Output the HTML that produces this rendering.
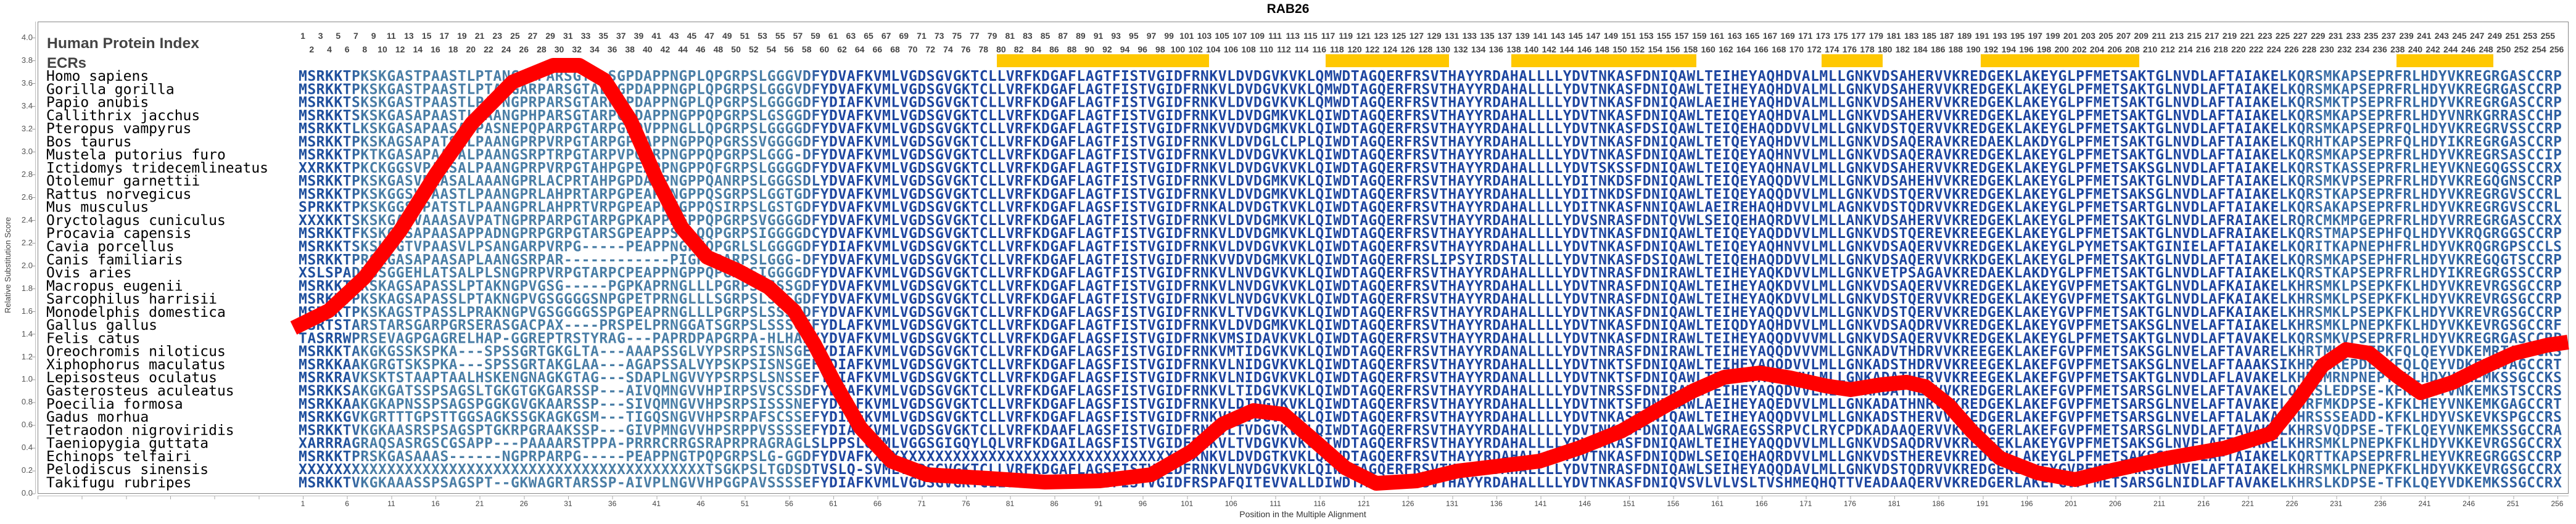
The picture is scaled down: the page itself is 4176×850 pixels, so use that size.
<!DOCTYPE html>
<html><head><meta charset="utf-8">
<style>
html,body{margin:0;padding:0;background:#fff;}
body{width:4176px;height:850px;position:relative;overflow:hidden;font-family:"Liberation Sans",sans-serif;}
.row{position:absolute;display:flex;white-space:nowrap;}
.hn span{flex:0 0 28.667px;text-align:center;}
.hn{font-weight:bold;font-size:14px;line-height:20px;color:#444;}
.bl span{flex:0 0 71.667px;text-align:center;}
.bl{font-size:12px;line-height:14px;color:#444;}
svg{position:absolute;left:0;top:0;}
</style></head><body>
<svg width="4176" height="850" viewBox="0 0 4176 850">
<defs>
<linearGradient id="g" gradientUnits="userSpaceOnUse" x1="484" y1="0" x2="4153" y2="0">
<stop offset="0" stop-color="#1f4f9d"/>
<stop offset="0.02" stop-color="#1f4f9d"/>
<stop offset="0.03" stop-color="#4a7ea6"/>
<stop offset="0.22" stop-color="#4a7ea6"/>
<stop offset="0.235" stop-color="#1e46a0"/>
<stop offset="0.87" stop-color="#1e46a0"/>
<stop offset="0.89" stop-color="#3a6ea6"/>
<stop offset="1" stop-color="#2d5fa2"/>
</linearGradient>
</defs>
<text x="2088" y="21" font-family="Liberation Sans" font-weight="bold" font-size="21" text-anchor="middle" fill="#000">RAB26</text>
<rect x="61.5" y="35.5" width="4102" height="765" fill="none" stroke="#888" stroke-width="1"/>
<line x1="57.5" y1="35" x2="57.5" y2="801" stroke="#bbb"/>
<line x1="61" y1="804.5" x2="4164" y2="804.5" stroke="#bbb"/>
<g font-family="Liberation Sans" font-size="13" fill="#555" text-anchor="end">
<text x="53" y="65">4.0</text><text x="53" y="102">3.8</text><text x="53" y="139">3.6</text><text x="53" y="176">3.4</text><text x="53" y="213">3.2</text><text x="53" y="250">3.0</text><text x="53" y="287">2.8</text><text x="53" y="324">2.6</text><text x="53" y="361">2.4</text><text x="53" y="398">2.2</text><text x="53" y="435">2.0</text><text x="53" y="472">1.8</text><text x="53" y="509">1.6</text><text x="53" y="546">1.4</text><text x="53" y="583">1.2</text><text x="53" y="619">1.0</text><text x="53" y="656">0.8</text><text x="53" y="693">0.6</text><text x="53" y="730">0.4</text><text x="53" y="767">0.2</text><text x="53" y="804">0.0</text>
</g>
<text transform="translate(17,430) rotate(-90)" font-family="Liberation Sans" font-size="13" fill="#444" text-anchor="middle">Relative Substitution Score</text>
<text x="2112" y="839" font-family="Liberation Sans" font-size="14" fill="#333" text-anchor="middle">Position in the Multiple Alignment</text>
<text x="76" y="78" font-family="Liberation Sans" font-weight="bold" font-size="24" fill="#444" textLength="247" lengthAdjust="spacingAndGlyphs">Human Protein Index</text>
<text x="76" y="110" font-family="Liberation Sans" font-weight="bold" font-size="24" fill="#444">ECRs</text>
<g fill="#ffc800">
<rect x="1616" y="88" width="344" height="21"/>
<rect x="2149" y="88" width="200" height="21"/>
<rect x="2450" y="88" width="300" height="21"/>
<rect x="2953" y="88" width="99" height="21"/>
<rect x="3211" y="88" width="257" height="21"/>
<rect x="3885" y="88" width="157" height="21"/>
</g>
<g font-family="DejaVu Sans Mono" font-size="23" fill="#000">
<text x="75" y="131">Homo sapiens</text>
<text x="75" y="152.3">Gorilla gorilla</text>
<text x="75" y="173.5">Papio anubis</text>
<text x="75" y="194.8">Callithrix jacchus</text>
<text x="75" y="216.1">Pteropus vampyrus</text>
<text x="75" y="237.4">Bos taurus</text>
<text x="75" y="258.6">Mustela putorius furo</text>
<text x="75" y="279.9">Ictidomys tridecemlineatus</text>
<text x="75" y="301.2">Otolemur garnettii</text>
<text x="75" y="322.4">Rattus norvegicus</text>
<text x="75" y="343.7">Mus musculus</text>
<text x="75" y="365">Oryctolagus cuniculus</text>
<text x="75" y="386.2">Procavia capensis</text>
<text x="75" y="407.5">Cavia porcellus</text>
<text x="75" y="428.8">Canis familiaris</text>
<text x="75" y="450.1">Ovis aries</text>
<text x="75" y="471.3">Macropus eugenii</text>
<text x="75" y="492.6">Sarcophilus harrisii</text>
<text x="75" y="513.9">Monodelphis domestica</text>
<text x="75" y="535.1">Gallus gallus</text>
<text x="75" y="556.4">Felis catus</text>
<text x="75" y="577.7">Oreochromis niloticus</text>
<text x="75" y="598.9">Xiphophorus maculatus</text>
<text x="75" y="620.2">Lepisosteus oculatus</text>
<text x="75" y="641.5">Gasterosteus aculeatus</text>
<text x="75" y="662.8">Poecilia formosa</text>
<text x="75" y="684">Gadus morhua</text>
<text x="75" y="705.3">Tetraodon nigroviridis</text>
<text x="75" y="726.6">Taeniopygia guttata</text>
<text x="75" y="747.8">Echinops telfairi</text>
<text x="75" y="769.1">Pelodiscus sinensis</text>
<text x="75" y="790.4">Takifugu rubripes</text>
</g>
<g font-family="DejaVu Sans Mono" font-weight="bold" font-size="23" fill="url(#g)">
<text x="484" y="131" textLength="3669" lengthAdjust="spacing">MSRKKTPKSKGASTPAASTLPTANGARPARSGTALSGPDAPPNGPLQPGRPSLGGGVDFYDVAFKVMLVGDSGVGKTCLLVRFKDGAFLAGTFISTVGIDFRNKVLDVDGVKVKLQMWDTAGQERFRSVTHAYYRDAHALLLLYDVTNKASFDNIQAWLTEIHEYAQHDVALMLLGNKVDSAHERVVKREDGEKLAKEYGLPFMETSAKTGLNVDLAFTAIAKELKQRSMKAPSEPRFRLHDYVKREGRGASCCRP</text>
<text x="484" y="152.3" textLength="3669" lengthAdjust="spacing">MSRKKTPKSKGASTPAASTLPTANGARPARSGTALSGPDAPPNGPLQPGRPSLGGGVDFYDVAFKVMLVGDSGVGKTCLLVRFKDGAFLAGTFISTVGIDFRNKVLDVDGVKVKLQMWDTAGQERFRSVTHAYYRDAHALLLLYDVTNKASFDNIQAWLTEIHEYAQHDVALMLLGNKVDSAHERVVKREDGEKLAKEYGLPFMETSAKTGLNVDLAFTAIAKELKQRSMKAPSEPRFRLHDYVKREGRGASCCRP</text>
<text x="484" y="173.5" textLength="3669" lengthAdjust="spacing">MSRKKTSKSKGASTPAASTLPATNGPRPARSGTARPGPDAPPNGPLQPGRPSLGGGGDFYDIAFKVMLVGDSGVGKTCLLVRFKDGAFLAGTFISTVGIDFRNKVLDVDGVKVKLQMWDTAGQERFRSVTHAYYRDAHALLLLYDVTNKASFDNIQAWLAEIHEYAQHDVALMLLGNKVDSAHERVVKREDGEKLAKEYGLPFMETSAKTGLNVDLAFTAIAKELKQRSMKTPSEPRFRLHDYVKREGRGASCCRP</text>
<text x="484" y="194.8" textLength="3669" lengthAdjust="spacing">MSRKKTSKSKGASAPAASTLPAANGPHPARSGTARPGSDAPPNGPPQPGRPSLGSGGDFYDVAFKVMLVGDSGVGKTCLLVRFKDGAFLAGTFISTVGIDFRNKVLDVDGMKVKLQIWDTAGQERFRSVTHAYYRDAHALLLLYDVTNKASFDNIQAWLTEIQEYAQHDVALMLLGNKVDSAHERVVKREDGEKLAKEYGLPFMETSAKTGLNVDLAFTAIAKELKQRSMKAPSEPRFRLHDYVNRKGRRASCCHP</text>
<text x="484" y="216.1" textLength="3669" lengthAdjust="spacing">MSRKKTLKSKGASAPAASAIPASNEPQPARPGTARPGPQVPPNGLLQPGRPSLGGGGDFYDVAFKVMLVGDSGVGKTCLLVRFKDGAFLAGTFISTVGIDFRNKVVDVDGMKVKLQIWDTAGQERFRSVTHAYYRDAHALLLLYDVTNKASFDSIQAWLTEIQEHAQDDVVLMLLGNKVDSTQERVVKREDGEKLAKEYGLPFMETSAKTGLNVDLAFTAIAKELKQRSMKAPSEPRFQLHDYVKREGRVSSCCRP</text>
<text x="484" y="237.4" textLength="3669" lengthAdjust="spacing">MSRKKTPKSKAGSAPATSALPAANGPRPVRPGTARPGPEAPPNGPPQPGRSSVGGGGDFYDVAFKVMLVGDSGVGKTCLLVRFKDGAFLAGTFISTVGIDFRNKVLDVDGLCLPLQIWDTAGQERFRSVTHAYYRDAHALLLLYDVTNKASFDNIQAWLTETQEYAQHDVVLMLLGNKVDSAQERAVKREDAEKLAKDYGLPFMETSAKTGLNVDLAFTAIAKELKQRHTKAPSEPRFQLHDYIKREGRGASCCRP</text>
<text x="484" y="258.6" textLength="3669" lengthAdjust="spacing">MSRKKTPKTKGASAPAASALPAANGSRPTRPGTARPVPQARPNGPPQPGRPSLGGG-DFYDVAFKVMLVGDSGVGKTCLLVRFKDGAFLAGTFISTVGIDFRNKVLDVDGVKVKLQIWDTAGQERFRSVTHAYYRDAHALLLLYDVTNKASFDNIQAWLTEIQEYAQHNVVLMLLGNKVDSAQERAVKREDGEKLAKEYGLPFMETSAKTGLNVDLAFTAIAKELKQRSMKAPSEPRFRLHDYVKREGRSASCCIP</text>
<text x="484" y="279.9" textLength="3669" lengthAdjust="spacing">XXRKKTPKCKGGSVPAASALPAANGPRPVRPGTAHPGPEAPPNGPPQFGRPSLGGGGDFYDVAFKVMLVGDSGVGKTCLLVRFKDGAFLAGTFISTVGIDFRNKVLDVDGVKVKLQIWDTAGQERFRSVTHAYYRDAHALLLLYDVTSKSSFDNIQAWLTEIQEYAQHNAVLMLLGNKVDSAHERVVKREDGEKLAKEYGLPFMETSAKSGLNVDLAFTAIAKELKQRSTKASSEPRFRLHEYVKNEGQGSSCCRX</text>
<text x="484" y="301.2" textLength="3669" lengthAdjust="spacing">MSRKKTPKSKGASVPAASALAAANGPRLACPRTAHPGPDAPPNGPPQANRPSLGGGSDLYDVAFKVMLVGDSGVGKTCLLVRFKDGAFLAGTFISTVGIDFRNKVLDVDGMKVKLQIWDTAGQERFRSVTHAYYRDAHALLLLYDITNKDSFDNIQAWLTEIQEYAQQDVVLMLLGNKVDSAHEHVVKREDGEKLAKEYGLPFMETSAKTGLNVDLAFTAIAKELKQRSMKVPSEPRFRLHDYVKREGQGNSCCRP</text>
<text x="484" y="322.4" textLength="3669" lengthAdjust="spacing">MSRKKTPKSKGGSVPAASTLPAANGPRLAHPRTARPGPEAPPNGPPQSGRPSLGGTGDFYDVAFKVMLVGDSGVGKTCLLVRFKDGAFLAGTFISTVGIDFRNKVLDVDGMKVKLQIWDTAGQERFRSVTHAYYRDAHALLLLYDITNKDSFDNIQAWLTEIQEYAQQDVVLMLLGNKVDSTQERVVKREDGEKLAKEYGLPFMETSAKSGLNVDLAFTAIAKELKQRSTKAPSEPRFRLHDYVKREGRGVSCCRL</text>
<text x="484" y="343.7" textLength="3669" lengthAdjust="spacing">SPRKKTPKSKGGSEPATSTLPAANGPRLAHPRTVRPGPEAPPNGPPQSIRPSLGSTGDFYDVAFKVMLVGDSGVGKTCLLVRFKDGAFLAGSFISTVGIDFRNKALDVDGTKVKLQIWDTAGQERFRSVTHAYYRDAHALLLLYDITNKASFNNIQAWLAEIREHAQHDVVLMLAGNKVDSTQDRVVKREDGEKLAKEYGLPFMETSARTGLNVDLAFTAIAKELKQRSAKAPSEPRFRLHDYVKREGRGVSCCRL</text>
<text x="484" y="365" textLength="3669" lengthAdjust="spacing">XXXKKTSKSKGASVAAASAVPATNGPRPARPGTARPGPKAPPNGPPQPGRPSVGGGGDFYDVAFKVMLVGDSGVGKTCLLVRFKDGAFLAGTFISTVGIDFRNKVLDVDGMKVKLQIWDTAGQERFRSVTHAYYRDAHALLLLYDVSNRASFDNTQVWLSEIQEHAQRDVVLMLLANKVDSAHERVVKREDGEKLAKEYGLPFMETSAKTGLNVDLAFRAIAKELRQRCMKMPGEPRFRLHDYVRREGRGASCCRX</text>
<text x="484" y="386.2" textLength="3669" lengthAdjust="spacing">MSRKKTFKSKGASAPAASAPPADNGPRPGRPGTARSGPEAPPSGLQQPGRPSIGGGGDCYDVAFKVMLVGDSGVGKTCLLVRFKDGAFLAGTFISTVGIDFRNKVLDVDGMKVKLQIWDTAGQERFRSVTHAYYRDAHALLLLYDVTNKASFDNIQAWLTEIQEYAQDDVVLMLLGNKVDSTQEREVKREEGEKLAKEYGLPFMETSAKTGLNVDLAFRAIAKELKQRSTMAPSEPHFQLHDYVKRQGRGGSCCRP</text>
<text x="484" y="407.5" textLength="3669" lengthAdjust="spacing">MSRKKTSKSKTGTVPAASVLPSANGARPVRPG-----PEAPPNGPHQPGRLSLGGGGDFYDIAFKVMLVGDSGVGKTCLLVRFKDGAFLAGTFISTVGIDFRNKVLDVDGVKVKLQIWDTAGQERFRSVTHAYYRDAHALLLLYDVTNKASFDNIQAWLTEIQEYAQHNVVLMLLGNKVDSAQERVVKREDGEKLAKEYGLPYMETSAKTGINIELAFTAIAKELKQRITKAPNEPHFRLHDYVKRQGRGPSCCLS</text>
<text x="484" y="428.8" textLength="3669" lengthAdjust="spacing">MSRKKTPRSKGASAPAASAPLAANGSRPAR------------PIGPPPARPSLGGG-DFYDVAFKVMLVGDSGVGKTCLLVRFKDGAFLAGTFISTVGIDFRNKVVDVDGMKVKLQIWDTAGQERFRSLIPSYIRDSTALLLLYDVTNKASFDSIQAWLTEIQEHAQDDVVLMLLGNKVDSAQERVVKRKDGEKLAKEYGLPFMETSAKTGLNVDLAFTAIAKELKQRSMKAPSEPHFRLHDYVKREGQGTSCCRP</text>
<text x="484" y="450.1" textLength="3669" lengthAdjust="spacing">XSLSPADRSSGGEHLATSALPLSNGPRPVRPGTARPCPEAPPNGPPQPGNSSIGGGGDFYDVAFKVMLVGDSGVGKTCLLVRFKDGAFLAGTFISTVGIDFRNKVLNVDGVKVKLQIWDTAGQERFRSVTHAYYRDAHALLLLYDVTNRASFDNIRAWLTEIHEYAQKDVVLMLLGNKVETPSAGAVKREDAEKLAKDYGLPFMETSAKTGLNVDLAFTAIAKELKQRSTKAPSEPRFRLHDYIKREGRGSSCCRP</text>
<text x="484" y="471.3" textLength="3669" lengthAdjust="spacing">MSRKKTPKSKAGSAPASSLPTAKNGPVGSG-----PGPKAPRNGLLLPGRPSLSSSGDFYDVAFKVMLVGDSGVGKTCLLVRFKDGAFLAGTFISTVGIDFRNKVLNVDGVKVKLQIWDTAGQERFRSVTHAYYRDAHALLLLYDVTNRASFDNIQAWLTEIHEYAQKDVVLMLLGNKVDSAQERVVKREDGEKLAKEYGVPFMETSAKTGLNVDLAFKAIAKELKHRSMKLPSEPKFKLHDYVKREVRGSGCCRP</text>
<text x="484" y="492.6" textLength="3669" lengthAdjust="spacing">MSRKKTPKSKAGSAPASSLPTAKNGPVGSGGGGSNPGPETPRNGLLLSGRPSLSSSGDFYDVAFKVMLVGDSGVGKTCLLVRFKDGAFLAGTFISTVGIDFRNKVLNVDGVKVKLQIWDTAGQERFRSVTHAYYRDAHALLLLYDVTNRASFDNIQAWLTEIHEYAQKDVVLMLLGNKVDSTQERVVKREDGEKLAKEYGVPFMETSAKTGLNVDLAFKAIAKELKHRSMKLPSEPKFKLHDYVKREVRGSGCCRP</text>
<text x="484" y="513.9" textLength="3669" lengthAdjust="spacing">MSRKKTPKSKAGSTPASSLPRAKNGPVGSGGGGSSPGPEAPRNGLLLPGRPSLSSSGDFYDVAFKVMLVGDSGVGKTCLLVRFKDGAFLAGSFISTVGIDFRNKVLTVDGVKVKLQIWDTAGQERFRSVTHAYYRDAHALLLLYDVTNKASFDNIQAWLTEIHEYAQQDVVLMLLGNKVDSTQERVVKREDGEKLAKEYGVPFMETSAKTGLNVDLAFKAIAKELKHRSMKLPSEPKFKLHDYVKREVRGSGCCRP</text>
<text x="484" y="535.1" textLength="3669" lengthAdjust="spacing">PSRTSTARSTARSGARPGRSERASGACPAX----PRSPELPRNGGATSGRPSLSSSGEFYDLAFKVMLVGDSGVGKTCLLVRFKDGAFLAGTFISTVGIDFRNKVLDVDGMKVKLQIWDTAGQERFRSVTHAYYRDAHALLLLYDVTNKASFDNIQAWLTEIQDYAQHDVVLMLLGNKVDSAQDRVVKREDGEKLAKEYGVPFMETSAKSGLNVELAFTAIAKELKHRSMKLPNEPKFKLHDYVKKEVRGSGCCRF</text>
<text x="484" y="556.4" textLength="3669" lengthAdjust="spacing">TASRRWPRSEVAGPGAGRELHAP-GGREPTRSTYRAG---PAPRDPAPGRPA-HLHAPXYDVAFKVMLVGDSGVGKTCLLVRFKDGAFLAGSFISTVGIDFRNKVMSIDAVKVKLQIWDTAGQERFRSVTHAYYRDAHALLLLYDVTNKASFDNIRAWLTEIHEYAQQDVVVMLLGNKVDSAQERVVKREDGEKLAKEYGLPFMETSAKTGLNVDLAFTAVAKELKQRSMKVPSEPRFRLHDYVKREGRGASCCRP</text>
<text x="484" y="577.7" textLength="3669" lengthAdjust="spacing">MSRKKTAKGKGSSKSPKA---SPSSGRTGKGLTA---AAAPSSGLVYPSRPSISNSGEFYDIAFKVMLVGDSGVGKTCLLVRFKDGAFLAGSFISTVGIDFRNKVMTIDGVKVKLQIWDTAGQERFRSVTHAYYRDANALLLLYDVTNRASFDNIRAWLTEIHEYAQQDVVVMLLGNKADVTHDRVVKREEGEKLAKEFGVPFMETSAKSGLNVELAFTAVARELKHRTMKEPDEPKFQLQEYVDKEMRTAGCCRS</text>
<text x="484" y="598.9" textLength="3669" lengthAdjust="spacing">MSRKKAAKGRGTSKSPKA---SPSSGRTAKGLAA---AGAPSSALVYPSKPSISNSGEFYDIAFKVMLVGDSGVGKTCLLVRFKDGAFLAGSFISTVGIDFRNKVLNIDGVKVKLQIWDTAGQERFRSVTHAYYRDAHALLLLYDVTNKTSFDNIQAWLTEIHEYAQQDVVLMLLGNKADSTHDRVVKREEGEKLAKEFGVPFMETSAKSGLNVELAFTAAAKSIKHRTMKEPDEPKFQLQEYVDKEMRVAGCCRT</text>
<text x="484" y="620.2" textLength="3669" lengthAdjust="spacing">MSRKRAVKSKTSTAAPTAALHSKENGNAGKGTAG---SDAPLNGVVYPSRPSLSNSSEFYDIAFKVMLVGDSGVGKTCLLVRFKDGAFLAGSFISTVGIDFRNKVLNIDGVKVKLQIWDTAGQERFRSVTHAYYRDANALLLLYDVTNKTSFDNIQAWLTEIHEYAQQDVVLMLLGNKADATHERVVKREEGEKLAKEFGVPFMETSAKTGLNVDLAFLAVAKELKHRSMRNPNEPTFKLHDYVNKEMKSSGCCKS</text>
<text x="484" y="641.5" textLength="3669" lengthAdjust="spacing">MSRKKSAKGKGATSSPSAGSLTGKGTGKGARSSP---AIVQMNGVVHPIRPSVSCSSDFYDIAFKVMLVGDSGVGKTCLLVRFKDGAFLAGSFISTVGIDFRNKVLTIDGVKVKLQIWDTAGQERFRSVTHAYYRDAHALLLLYDVTNRSSFDNIRAWLTEIHEYAQQDVVLMLLGNKADATHERVVKREDGERLAKEFGVPFMETSARSGLNVELAFTAVAKELQHRSLEDPSE-KFKLQEYVNKEMKSTSCCRS</text>
<text x="484" y="662.8" textLength="3669" lengthAdjust="spacing">MSRKKAAKGKAPNSSPSAGSPGGKGVGKAARSSP---SIVQMNGVVHPSRPSISSSNEFYDIAFKVMLVGDSGVGKTCLLVRFKDGAFLAGSFISTVGIDFRNKVLDIDGVKVKLQIWDTAGQERFRSVTHAYYRDAHALLLLYDVTNKTSFDNIRAWLAEIHEYAQEDVVLMLLGNKADATHNRVVKREDGEKLAKEFGVPFMETSARSGLNVELAFTAVAKELKHRFMKDPSE-KFKLHEYVNKEMKGAGCCRT</text>
<text x="484" y="684" textLength="3669" lengthAdjust="spacing">MSRKKGVKGRTTTGPSTTGGSAGKSSGKAGKGSM---TIGQSNGVVHPSRPAFSCSSEFYDIAFKVMLVGDSGVGKTCLLVRFKDGAFLAGSFISTVGIDFRNKVLTVDGVKVKLQIWDTAGQERFRSVTHAYYRDAHALLLLYDVTNKASFDNIQAWLTEIHEYAQQDVVLMLLGNKADSTHERVVKKEDGERLAKEFGVPFMETSARSGLNVELAFTALAKALRHRSSSEADD-KFKLHDYVSKEVKSPGCCRS</text>
<text x="484" y="705.3" textLength="3669" lengthAdjust="spacing">MSRKKTVKGKAASRSPSAGSPTGKRPGRAAKSSP---GIVPMNGVVHPSRPPVSSSSEFYDIAFKVMLVGDSGVGKTCLLVRFKDAAFLAGSFISTVGIDFRNKVLTVDGVKVKLQIWDTAGQERFRSVTHAYYRDAHALLLLYDVTNKASFDNIQAALWGRAEGSSRPVCLRYCPDKADAAQERVVKREDGERLAKEFGVPFMETSARSGLNVDLAFTAVAKELKHRSVQDPSE-TFKLQEYVNKEMKSSGCCRA</text>
<text x="484" y="726.6" textLength="3669" lengthAdjust="spacing">XARRRAGRAQSASRGSCGSAPP---PAAAARSTPPA-PRRRCRRGSRAPRPRAGRAGLSLPPSLQVMLVGGSGIGQYLQLVRFKDGAILAGSFISTVGIDFRNKVLTVDGVKVKLQIWDTAGQERFRSVTHAYYRDAHALLLLYDVTNKASFDNIQAWLTEIHEYAQQDVVLMLLGNKVDSAQDRVVKREDGEKLAKEYGVPFMETSAKSGLNVELAFTAIAKELKHRSMKLPNEPKFKLHDYVKKEVRGSGCCRX</text>
<text x="484" y="747.8" textLength="3669" lengthAdjust="spacing">MSRKKTPRSKGASAAAS------NGPRPARPG-----PEAPPNGTPQPGRPSLG-GGDFYDVAFKXXXXXXXXXXXXXXXXXXXXXXXXXXXXXXXXXXXXXNKVLDVDGTKVKLQMWDTAGQERFRSVTHAYYRDAHALLLLYDVTNKASFDNIQDWLSEIQEHAQRDVVLMLLGNKVDSTHEREVKREDGEKLAKEYGLPFMETSAKSGLNVDLAFTAIAKELKQRTTKAPSEPRFRLHEYVKREGRGGSCCRP</text>
<text x="484" y="769.1" textLength="3669" lengthAdjust="spacing">XXXXXXXXXXXXXXXXXXXXXXXXXXXXXXXXXXXXXXXXXXXXXXTSGKPSLTGDSDTVSLQ-SVMLVGDSGVGKTCLLVRFKDGAFLAGSFISTVGIDFRNKVLNVDGVKVKLQIWDTAGQERFRSVTHAYYRDAHALLLLYDVTNRASFDNIQAWLSEIHEYAQQDAVLMLLGNKVDSTQDRVVKREDGEKLAKEYGVPFMETSAKSGLNVELAFTAIAKELKHRSMKLPNEPKFKLHDYVKKEVRGSGCCRX</text>
<text x="484" y="790.4" textLength="3669" lengthAdjust="spacing">MSRKKTVKGKAAASSPSAGSPT--GKWAGRTARSSP-AIVPLNGVVHPGGPAVSSSSEFYDIAFKVMLVGDSGVGKTCLLVRFKDAAFLAGSFISTVGIDFRSPAFQITEVVALLDIWDTAGQERFRSVTHAYYRDAHALLLLYDVTNKASFDNIQVSVLVLVSLTVSHMEQHQTTVEADAAQERVVKREDGERLAKEFGVPFMETSARSGLNIDLAFTAVAKELKHRSLKDPSE-TFKLQEYVDKEMKSSGCCRX</text>
</g>
<polyline fill="none" stroke="#ff0000" stroke-width="24" stroke-linejoin="round" stroke-linecap="butt" points="476,532 533,504 591,450 649,374 707,282 765,200 831,133 897,106 939,106 980,130 1022,195 1063,287 1105,369 1146,417 1196,439 1246,466 1287,504 1320,558 1354,623 1395,694 1445,748 1503,770 1602,776 1694,782 1783,780 1866,770 1932,732 1982,688 2032,666 2081,672 2131,715 2181,759 2231,784 2297,780 2363,764 2430,756 2496,748 2562,726 2629,699 2695,661 2745,634 2795,612 2853,605 2902,613 2960,626 3000,632 3050,624 3091,620 3121,627 3159,657 3197,700 3242,743 3303,767 3364,778 3424,763 3515,743 3606,727 3682,703 3727,647 3765,593 3803,567 3841,573 3886,610 3924,637 3977,620 4023,597 4076,573 4129,560 4163,555"/>
</svg>
<div style="position:absolute;left:52px;top:61px;width:5px;height:742px;background:repeating-linear-gradient(180deg,#999 0 1px,transparent 1px 36.98px);"></div>
<div style="position:absolute;left:61px;top:805px;width:4090px;height:5px;background:repeating-linear-gradient(90deg,#aaa 0 1px,transparent 1px 71.667px);"></div>
<div class="row hn" style="left:476.67px;top:48px;"><span>1</span><span>3</span><span>5</span><span>7</span><span>9</span><span>11</span><span>13</span><span>15</span><span>17</span><span>19</span><span>21</span><span>23</span><span>25</span><span>27</span><span>29</span><span>31</span><span>33</span><span>35</span><span>37</span><span>39</span><span>41</span><span>43</span><span>45</span><span>47</span><span>49</span><span>51</span><span>53</span><span>55</span><span>57</span><span>59</span><span>61</span><span>63</span><span>65</span><span>67</span><span>69</span><span>71</span><span>73</span><span>75</span><span>77</span><span>79</span><span>81</span><span>83</span><span>85</span><span>87</span><span>89</span><span>91</span><span>93</span><span>95</span><span>97</span><span>99</span><span>101</span><span>103</span><span>105</span><span>107</span><span>109</span><span>111</span><span>113</span><span>115</span><span>117</span><span>119</span><span>121</span><span>123</span><span>125</span><span>127</span><span>129</span><span>131</span><span>133</span><span>135</span><span>137</span><span>139</span><span>141</span><span>143</span><span>145</span><span>147</span><span>149</span><span>151</span><span>153</span><span>155</span><span>157</span><span>159</span><span>161</span><span>163</span><span>165</span><span>167</span><span>169</span><span>171</span><span>173</span><span>175</span><span>177</span><span>179</span><span>181</span><span>183</span><span>185</span><span>187</span><span>189</span><span>191</span><span>193</span><span>195</span><span>197</span><span>199</span><span>201</span><span>203</span><span>205</span><span>207</span><span>209</span><span>211</span><span>213</span><span>215</span><span>217</span><span>219</span><span>221</span><span>223</span><span>225</span><span>227</span><span>229</span><span>231</span><span>233</span><span>235</span><span>237</span><span>239</span><span>241</span><span>243</span><span>245</span><span>247</span><span>249</span><span>251</span><span>253</span><span>255</span></div>
<div class="row hn" style="left:491px;top:70px;"><span>2</span><span>4</span><span>6</span><span>8</span><span>10</span><span>12</span><span>14</span><span>16</span><span>18</span><span>20</span><span>22</span><span>24</span><span>26</span><span>28</span><span>30</span><span>32</span><span>34</span><span>36</span><span>38</span><span>40</span><span>42</span><span>44</span><span>46</span><span>48</span><span>50</span><span>52</span><span>54</span><span>56</span><span>58</span><span>60</span><span>62</span><span>64</span><span>66</span><span>68</span><span>70</span><span>72</span><span>74</span><span>76</span><span>78</span><span>80</span><span>82</span><span>84</span><span>86</span><span>88</span><span>90</span><span>92</span><span>94</span><span>96</span><span>98</span><span>100</span><span>102</span><span>104</span><span>106</span><span>108</span><span>110</span><span>112</span><span>114</span><span>116</span><span>118</span><span>120</span><span>122</span><span>124</span><span>126</span><span>128</span><span>130</span><span>132</span><span>134</span><span>136</span><span>138</span><span>140</span><span>142</span><span>144</span><span>146</span><span>148</span><span>150</span><span>152</span><span>154</span><span>156</span><span>158</span><span>160</span><span>162</span><span>164</span><span>166</span><span>168</span><span>170</span><span>172</span><span>174</span><span>176</span><span>178</span><span>180</span><span>182</span><span>184</span><span>186</span><span>188</span><span>190</span><span>192</span><span>194</span><span>196</span><span>198</span><span>200</span><span>202</span><span>204</span><span>206</span><span>208</span><span>210</span><span>212</span><span>214</span><span>216</span><span>218</span><span>220</span><span>222</span><span>224</span><span>226</span><span>228</span><span>230</span><span>232</span><span>234</span><span>236</span><span>238</span><span>240</span><span>242</span><span>244</span><span>246</span><span>248</span><span>250</span><span>252</span><span>254</span><span>256</span></div>
<div class="row bl" style="left:455.17px;top:810px;"><span>1</span><span>6</span><span>11</span><span>16</span><span>21</span><span>26</span><span>31</span><span>36</span><span>41</span><span>46</span><span>51</span><span>56</span><span>61</span><span>66</span><span>71</span><span>76</span><span>81</span><span>86</span><span>91</span><span>96</span><span>101</span><span>106</span><span>111</span><span>116</span><span>121</span><span>126</span><span>131</span><span>136</span><span>141</span><span>146</span><span>151</span><span>156</span><span>161</span><span>166</span><span>171</span><span>176</span><span>181</span><span>186</span><span>191</span><span>196</span><span>201</span><span>206</span><span>211</span><span>216</span><span>221</span><span>226</span><span>231</span><span>236</span><span>241</span><span>246</span><span>251</span><span>256</span></div>
</body></html>
